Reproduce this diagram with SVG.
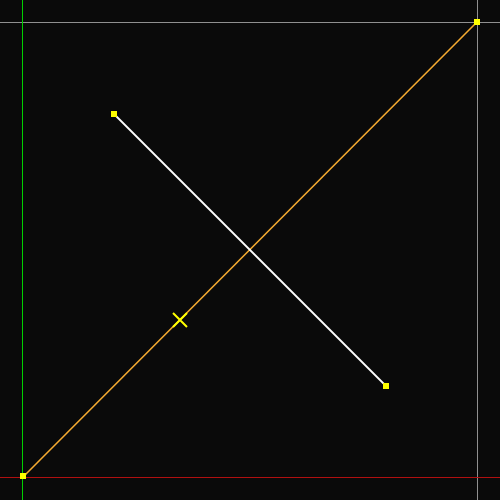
<svg xmlns="http://www.w3.org/2000/svg" width="500" height="500" viewBox="0 0 500 500">
<style>
.pt{fill:#ffff00}
.ax{stroke-width:1;fill:none}
</style>
<rect x="0" y="0" width="500" height="500" fill="#0a0a0a"/>
<g id="axes" class="ax">
<line x1="0" y1="22.5" x2="500" y2="22.5" stroke="#909090"/>
<line x1="477.5" y1="0" x2="477.5" y2="500" stroke="#909090"/>
<line x1="0" y1="477.5" x2="500" y2="477.5" stroke="#b01010"/>
<line x1="22.5" y1="0" x2="22.5" y2="500" stroke="#00d000"/>
</g>
<g id="connectors">
<line x1="23" y1="477" x2="477" y2="22" stroke="#f5aa30" stroke-width="1.6"/>
<line x1="114" y1="114" x2="386" y2="386" stroke="#ffffff" stroke-width="1.8"/>
<path d="M173 313 L187 327 M187 313 L173 327" stroke="#ffff00" stroke-width="2" fill="none"/>
</g>
<g id="p1"><rect class="pt" x="20" y="473" width="6" height="6"/></g>
<g id="p2"><rect class="pt" x="474" y="19" width="6" height="6"/></g>
<g id="p3"><rect class="pt" x="111" y="111" width="6" height="6"/></g>
<g id="p4"><rect class="pt" x="383" y="383" width="6" height="6"/></g>
</svg>
